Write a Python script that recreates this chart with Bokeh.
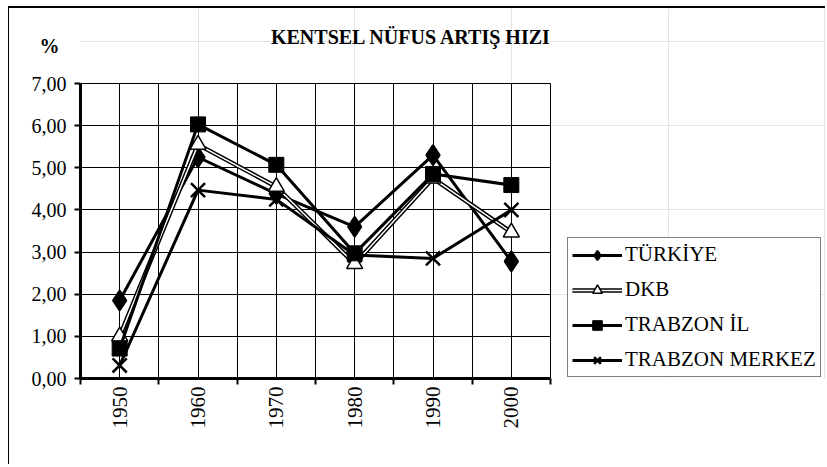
from math import pi
from bokeh.plotting import figure
from bokeh.models import (Range1d, LinearAxis, FixedTicker, Grid, Legend, LegendItem,
                          Label, ColumnDataSource)
from bokeh.embed import file_html
from bokeh.resources import INLINE

# ---- data ----
years = [1950, 1960, 1970, 1980, 1990, 2000]
turkiye = [1.85, 5.25, 4.38, 3.60, 5.30, 2.78]
dkb = [1.00, 5.55, 4.55, 2.72, 4.75, 3.47]
trabzon_il = [0.71, 6.03, 5.07, 2.97, 4.85, 4.59]
trabzon_merkez = [0.31, 4.47, 4.25, 2.93, 2.85, 4.00]
series_names = ["TÜRKİYE", "DKB", "TRABZON İL", "TRABZON MERKEZ"]
y_ticks = [0, 1, 2, 3, 4, 5, 6, 7]
y_tick_labels = ["0,00", "1,00", "2,00", "3,00", "4,00", "5,00", "6,00", "7,00"]
title_text = "KENTSEL NÜFUS ARTIŞ HIZI"
unit_text = "%"

FONT = "Liberation Serif"

# ---- layout geometry (pixels) ----
W, H = 817, 458            # canvas size
LEFT, BOTTOM = 71, 88      # space for axes
PLOT_W, PLOT_H = 470, 295  # size of the drawn chart box (6 decades x 0..7)
FRAME_W, FRAME_H = W - LEFT, H - BOTTOM

step = years[1] - years[0]
x0 = years[0] - step / 2
x1 = years[-1] + step / 2
y_top = y_ticks[-1]
x_end = x0 + (x1 - x0) * FRAME_W / PLOT_W
y_end = y_top * FRAME_H / PLOT_H
px_per_y = PLOT_H / y_top

boundaries = [x0 + step * i for i in range(len(years) + 1)]
half_steps = [x0 + step / 2 * i for i in range(2 * len(years) + 1)]

src = ColumnDataSource(dict(year=years, turkiye=turkiye, dkb=dkb,
                            il=trabzon_il, merkez=trabzon_merkez))

p = figure(width=W, height=H,
           x_range=Range1d(x0, x_end), y_range=Range1d(0, y_end),
           output_backend="svg", toolbar_location=None,
           x_axis_location=None, y_axis_location=None,
           min_border_left=LEFT, min_border_right=0,
           min_border_top=0, min_border_bottom=BOTTOM)
p.styles = {"margin-left": "8px", "margin-top": "6px",
            "border-left": "1px solid black", "border-top": "2px solid black"}
p.background_fill_color = "white"
p.border_fill_color = "white"
p.outline_line_color = None

# y axis
yaxis = LinearAxis(ticker=FixedTicker(ticks=y_ticks), bounds=(0, y_top),
                   major_label_overrides={float(t): s for t, s in zip(y_ticks, y_tick_labels)})
yaxis.axis_line_width = 3
yaxis.axis_line_color = "black"
yaxis.major_tick_out = 6
yaxis.major_tick_in = 0
yaxis.major_tick_line_width = 2
yaxis.minor_tick_line_color = None
yaxis.major_label_text_font = FONT
yaxis.major_label_text_font_size = "20px"
yaxis.major_label_text_color = "black"
yaxis.major_label_standoff = 8
p.add_layout(yaxis, "left")

# unit "%" shown above the y tick labels
pct_y = y_top + 38 / px_per_y
unit_axis = LinearAxis(ticker=FixedTicker(ticks=[pct_y]),
                       major_label_overrides={float(pct_y): unit_text})
unit_axis.axis_line_color = None
unit_axis.major_tick_line_color = None
unit_axis.minor_tick_line_color = None
unit_axis.major_tick_out = 0
unit_axis.major_tick_in = 0
unit_axis.major_label_standoff = -31
unit_axis.major_label_text_font = FONT
unit_axis.major_label_text_font_style = "bold"
unit_axis.major_label_text_font_size = "20px"
unit_axis.major_label_text_color = "black"
p.add_layout(unit_axis, "left")

# x axis: boundary ticks
tick_axis = LinearAxis(ticker=FixedTicker(ticks=boundaries), bounds=(x0, x1))
tick_axis.axis_line_width = 3
tick_axis.axis_line_color = "black"
tick_axis.major_tick_out = 6
tick_axis.major_tick_in = 0
tick_axis.major_tick_line_width = 2
tick_axis.minor_tick_line_color = None
tick_axis.major_label_text_font_size = "0px"
tick_axis.major_label_text_color = None
tick_axis.major_label_standoff = 0
p.add_layout(tick_axis, "below")

# x axis: year labels
label_axis = LinearAxis(ticker=FixedTicker(ticks=years))
label_axis.axis_line_color = None
label_axis.major_tick_line_color = None
label_axis.minor_tick_line_color = None
label_axis.major_tick_out = 0
label_axis.major_label_orientation = pi / 2
label_axis.major_label_text_font = FONT
label_axis.major_label_text_font_size = "21px"
label_axis.major_label_text_color = "black"
label_axis.major_label_standoff = 2
p.add_layout(label_axis, "below")

# grids
hgrid = Grid(dimension=1, ticker=FixedTicker(ticks=y_ticks), cross_bounds=(x0, x1),
             grid_line_color="black", grid_line_width=1)
vgrid = Grid(dimension=0, ticker=FixedTicker(ticks=half_steps), cross_bounds=(0, y_top),
             grid_line_color="black", grid_line_width=1)
p.add_layout(hgrid)
p.add_layout(vgrid)

# series
t_line = p.line("year", "turkiye", source=src, line_color="black", line_width=3)
t_mark = p.scatter("year", "turkiye", source=src, marker="diamond", size=20,
                   fill_color="black", line_color="black", line_width=2)

d_out = p.line("year", "dkb", source=src, line_color="black", line_width=4.5)
d_in = p.line("year", "dkb", source=src, line_color="white", line_width=1.5)
d_mark = p.scatter("year", "dkb", source=src, marker="triangle", size=16,
                   fill_color="white", line_color="black", line_width=1.5)

i_line = p.line("year", "il", source=src, line_color="black", line_width=3)
i_mark = p.scatter("year", "il", source=src, marker="square", size=15,
                   fill_color="black", line_color="black")

m_line = p.line("year", "merkez", source=src, line_color="black", line_width=3)
m_mark = p.scatter("year", "merkez", source=src, marker="x", size=20,
                   line_color="black", line_width=2.5)

legend = Legend(items=[
    LegendItem(label=series_names[0], renderers=[t_line, t_mark]),
    LegendItem(label=series_names[1], renderers=[d_out, d_in, d_mark]),
    LegendItem(label=series_names[2], renderers=[i_line, i_mark]),
    LegendItem(label=series_names[3], renderers=[m_line, m_mark]),
], location=(PLOT_W + 17, 1))
legend.label_text_font = FONT
legend.label_text_font_size = "21px"
legend.label_text_color = "black"
legend.glyph_width = 50
legend.glyph_height = 24
legend.label_height = 24
legend.label_standoff = 3
legend.spacing = 10
legend.padding = 4
legend.margin = 0
legend.border_line_color = "black"
legend.border_line_width = 1
legend.background_fill_color = "white"
legend.background_fill_alpha = 1
p.add_layout(legend)

# chart title (inside the frame area above the chart box)
p.add_layout(Label(x=x0, y=y_top, x_offset=331, y_offset=47,
                   text=title_text, text_font=FONT, text_font_style="bold",
                   text_font_size="20px", text_align="center", text_baseline="middle",
                   text_color="black"))

open("out.html", "w").write(file_html(p, INLINE))
